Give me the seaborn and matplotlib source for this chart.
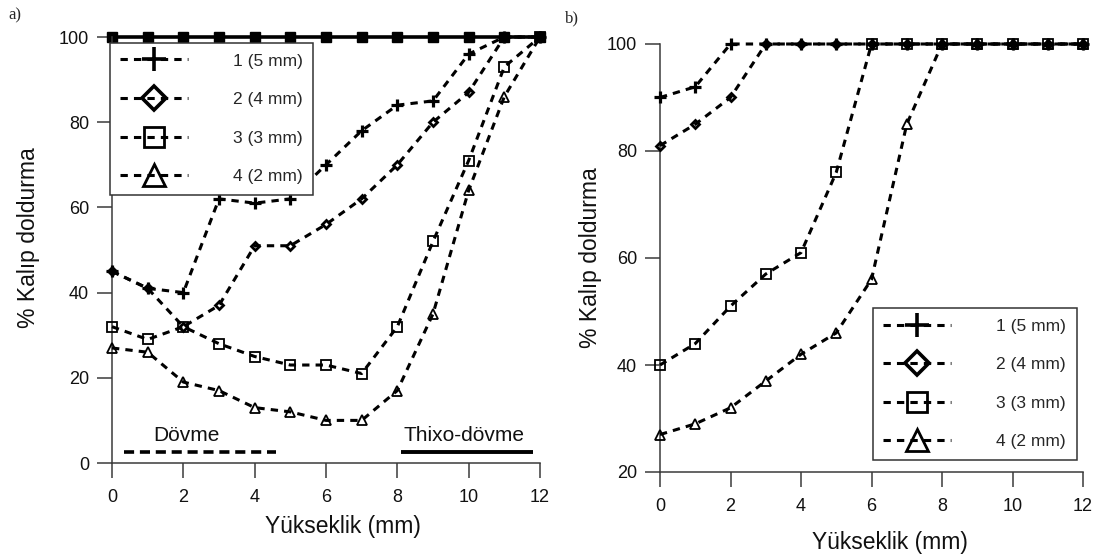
import matplotlib
matplotlib.use("Agg")
import matplotlib.pyplot as plt
import seaborn as sns

# Yükseklik (mm) values on the x axis
height_mm = [0, 1, 2, 3, 4, 5, 6, 7, 8, 9, 10, 11, 12]

# a) Dövme: % Kalıp doldurma for each wall thickness
a_5mm = [45, 41, 40, 62, 61, 62, 70, 78, 84, 85, 96, 100, 100]
a_4mm = [45, 41, 32, 37, 51, 51, 56, 62, 70, 80, 87, 100, 100]
a_3mm = [32, 29, 32, 28, 25, 23, 23, 21, 32, 52, 71, 93, 100]
a_2mm = [27, 26, 19, 17, 13, 12, 10, 10, 17, 35, 64, 86, 100]
# a) Thixo-dövme: complete filling at every height
a_thixo = [100, 100, 100, 100, 100, 100, 100, 100, 100, 100, 100, 100, 100]

# b) % Kalıp doldurma for each wall thickness
b_5mm = [90, 92, 100, 100, 100, 100, 100, 100, 100, 100, 100, 100, 100]
b_4mm = [81, 85, 90, 100, 100, 100, 100, 100, 100, 100, 100, 100, 100]
b_3mm = [40, 44, 51, 57, 61, 76, 100, 100, 100, 100, 100, 100, 100]
b_2mm = [27, 29, 32, 37, 42, 46, 56, 85, 100, 100, 100, 100, 100]

series_labels = ["1 (5 mm)", "2 (4 mm)", "3 (3 mm)", "4 (2 mm)"]

sns.set_style("ticks")
plt.rcParams["font.family"] = ["Liberation Sans", "DejaVu Sans"]

INK = "black"
AX_COLOR = "#3a3a3a"
DASH = (0, (2.4, 2.0))

# marker style per series: (marker, size, edge width, face, legend size)
marker_styles = [
    ("+", 8, 2.3, INK, 17),
    ("D", 4.5, 2.0, "none", 12),
    ("s", 7, 1.3, "none", 15),
    ("^", 7.5, 1.3, "none", 16),
]

fig = plt.figure(figsize=(11.01, 5.58), dpi=100)
ax_a = fig.add_axes([112 / 1101, 95 / 558, 428 / 1101, 426 / 558])
ax_b = fig.add_axes([660 / 1101, 86 / 558, 423 / 1101, 428 / 558])


def draw_series(ax, values_list):
    lines = []
    for vals, lab, (mk, ms, mew, mfc, _) in zip(values_list, series_labels, marker_styles):
        sns.lineplot(
            x=height_mm, y=vals, ax=ax, color=INK, label=lab,
            marker=mk, markersize=ms, markeredgewidth=mew,
            markeredgecolor=INK, markerfacecolor=mfc,
            linewidth=2.2, linestyle=DASH, clip_on=False, zorder=3,
        )
        lines.append(ax.lines[-1])
    return lines


def style_axes(ax, ylo, yticks):
    ax.set_xlim(0, 12)
    ax.set_ylim(ylo, 100)
    ax.set_xticks([0, 2, 4, 6, 8, 10, 12])
    ax.set_yticks(yticks)
    sns.despine(ax=ax)
    for side in ("left", "bottom"):
        ax.spines[side].set_color(AX_COLOR)
        ax.spines[side].set_linewidth(1.1)
    ax.tick_params(axis="both", direction="out", length=10.5, width=1.1,
                   color=AX_COLOR, labelsize=13, labelcolor="#111111")
    ax.tick_params(axis="x", pad=8)
    ax.tick_params(axis="y", pad=6)
    ax.set_xlabel("Yükseklik (mm)", fontsize=16.5, color="#111111")
    ax.set_ylabel("% Kalıp doldurma", fontsize=16.5, color="#111111")


def add_legend(ax, lines, anchor):
    leg = ax.legend(
        handles=lines, labels=series_labels, loc="upper left",
        bbox_to_anchor=anchor, borderaxespad=0, frameon=True, fancybox=False,
        edgecolor="#333333", framealpha=1, fontsize=12.5, handlelength=3.9,
        handletextpad=2.6, labelspacing=1.35, borderpad=0.6,
    )
    leg.get_frame().set_linewidth(1.1)
    for h, st in zip(leg.legend_handles, marker_styles):
        h.set_markersize(st[4])
        h.set_markeredgewidth(2.6 if st[0] in ("D", "+") else 2.0)
    return leg


# ---- panel a ----
sns.lineplot(
    x=height_mm, y=a_thixo, ax=ax_a, color=INK, label="_nolegend_",
    marker="s", markersize=7, markeredgewidth=1, markeredgecolor=INK,
    markerfacecolor=INK, linewidth=2.6, linestyle="-", clip_on=False, zorder=2,
)
lines_a = draw_series(ax_a, [a_5mm, a_4mm, a_3mm, a_2mm])
style_axes(ax_a, 0, [0, 20, 40, 60, 80, 100])
add_legend(ax_a, lines_a, (-0.005, 0.986))

# process markers along the bottom of panel a
ax_a.plot([0.35, 4.6], [2.6, 2.6], color=INK, linewidth=2.6,
          linestyle=(0, (2.8, 1.6)), solid_capstyle="butt")
ax_a.plot([8.1, 11.8], [2.6, 2.6], color=INK, linewidth=2.8,
          linestyle="-", solid_capstyle="butt")
ax_a.text(2.1, 6.4, "Dövme", ha="center", va="center", fontsize=15, color="#111111")
ax_a.text(9.87, 6.4, "Thixo-dövme", ha="center", va="center", fontsize=15, color="#111111")

ax_a.xaxis.set_label_coords(0.54, -0.122)
ax_a.yaxis.set_label_coords(-0.168, 0.53)

# ---- panel b ----
lines_b = draw_series(ax_b, [b_5mm, b_4mm, b_3mm, b_2mm])
style_axes(ax_b, 20, [20, 40, 60, 80, 100])
add_legend(ax_b, lines_b, (0.5035, 0.383))
ax_b.xaxis.set_label_coords(0.544, -0.138)
ax_b.yaxis.set_label_coords(-0.137, 0.5)

# panel tags
fig.text(8 / 1101, 1 - 15 / 558, "a)", family=["Liberation Serif", "DejaVu Serif"],
         fontsize=12, ha="left", va="center")
fig.text(565 / 1101, 1 - 18 / 558, "b)", family=["Liberation Serif", "DejaVu Serif"],
         fontsize=12, ha="left", va="center")

fig.savefig("out.png", dpi=100)
